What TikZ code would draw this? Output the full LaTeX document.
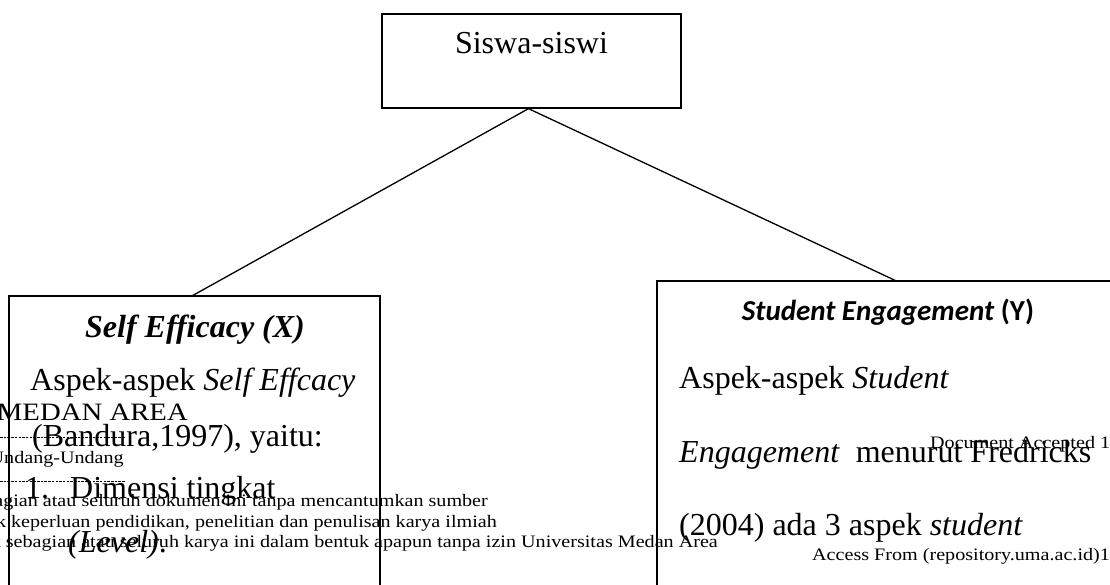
\documentclass[tikz,border=0pt]{standalone}
\usepackage{fontspec}
\setmainfont{Liberation Serif}
\newfontfamily\calfont{Carlito}
\newfontfamily\wmfont[FakeStretch=1.15]{Liberation Serif}
\begin{document}
\begin{tikzpicture}[x=1pt,y=-1pt,
  boxstyle/.style={draw, line width=1.3pt, inner sep=0pt},
  link/.style={line width=1.3pt},
  body/.style={font=\fontsize{32}{38}\selectfont, anchor=base west, inner sep=0pt},
  centered/.style={font=\fontsize{32}{38}\selectfont, anchor=base, inner sep=0pt},
  wm/.style={font=\wmfont\fontsize{17.5}{20}\selectfont, inner sep=0pt},
  wmrule/.style={line width=0.6pt, dash pattern=on 2.5pt off 1.2pt},
]
\useasboundingbox (0,0) rectangle (1110,585);
\clip (0,0) rectangle (1110,585);
% boxes
\node[boxstyle, minimum width=299pt, minimum height=94pt] (top) at (531.5,61) {};
\node[boxstyle, minimum width=371pt, minimum height=320pt] (left) at (194.5,456) {};
\node[boxstyle, minimum width=463pt, minimum height=322pt] (right) at (888.5,442) {};
% connectors
\draw[link] ([xshift=-3pt]top.south) -- ([xshift=-1.5pt]left.north);
\draw[link] ([xshift=-3pt]top.south) -- ([xshift=6.5pt]right.north);
% texts
\node[centered] (t1) at (531.5,54) {Siswa-siswi};
\node[centered] (lh) at (195,337) {\textbf{\textit{Self Efficacy (X)}}};
\node[body] (l1) at (30,390) {Aspek-aspek \textit{Self Effcacy}};
\node[body] (l2) at (32,446) {(Bandura,1997), yaitu:};
\node[body] (l3a) at (25,498) {1.};
\node[body] (l3b) at (70,498) {Dimensi tingkat};
\node[body] (l4) at (68,552) {\textit{(Level)}.};
\node[anchor=base, inner sep=0pt, font=\calfont\fontsize{29}{34}\selectfont\bfseries] (rh) at (888,320) {\textit{Student Engagement} (Y)};
\node[body] (r1) at (679,388) {Aspek-aspek \textit{Student}};
\node[body] (r2) at (679,462) {\textit{Engagement}\ \ menurut Fredricks};
\node[body] (r3) at (679,535) {(2004) ada 3 aspek \textit{student}};
% watermark
\node[wm, anchor=base east, font=\wmfont\fontsize{25}{28}\selectfont] (w1) at (188,420) {MEDAN AREA};
\coordinate (d1a) at (0,437); \coordinate (d1b) at (125,437);
\coordinate (d2a) at (0,481); \coordinate (d2b) at (125,481);
\draw[wmrule] (d1a) -- (d1b);
\draw[wmrule] (d2a) -- (d2b);
\node[wm, anchor=base east] (w2) at (124,463) {Undang-Undang};
\node[wm, anchor=base east] (w3) at (488,506) {agian atau seluruh dokumen ini tanpa mencantumkan sumber};
\node[wm, anchor=base east] (w4) at (497,527) {k keperluan pendidikan, penelitian dan penulisan karya ilmiah};
\node[wm, anchor=base east] (w5) at (718,547) {nk sebagian atau seluruh karya ini dalam bentuk apapun tanpa izin Universitas Medan Area};
\node[wm, anchor=base west] (w6) at (930,448) {Document Accepted 11};
\node[wm, anchor=base west] (w7) at (812,560) {Access From (repository.uma.ac.id)11};
\end{tikzpicture}
\end{document}
